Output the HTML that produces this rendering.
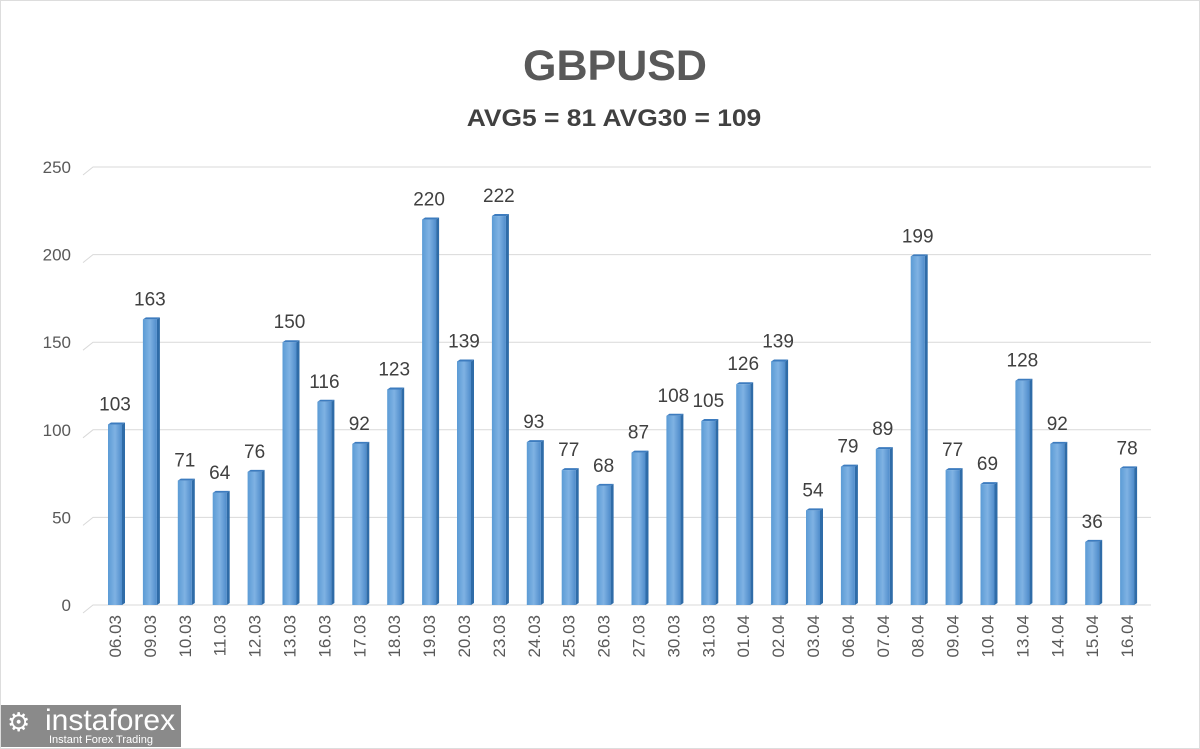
<!DOCTYPE html>
<html><head><meta charset="utf-8"><style>
body{margin:0;background:#fff;font-family:"Liberation Sans",sans-serif}
#wrap{position:relative;width:1200px;height:749px;overflow:hidden;background:#fff;box-sizing:border-box;border:1px solid #ddd}
.title{position:absolute;width:1200px;text-align:center;color:#595959;font-weight:bold}
#logo{position:absolute;left:0;top:704px;width:180px;height:42px;background:#8a8a8a;color:#fff}
</style></head><body>
<div id="wrap">
<div class="title" style="left:14px;top:41px;font-size:43px">GBPUSD</div>
<div class="title" style="left:13px;top:104px;font-size:24px;color:#404040;transform:scaleX(1.1)">AVG5 = 81 AVG30 = 109</div>
<svg id="chart" width="1200" height="749" style="position:absolute;left:0;top:0"></svg>
<div id="logo">
<div style="position:absolute;left:6px;top:4px;font-size:26px;line-height:26px">⚙</div>
<div style="position:absolute;left:44px;top:1px;font-size:30px;line-height:30px">instaforex</div>
<div style="position:absolute;left:48px;top:29px;font-size:11px">Instant Forex Trading</div>
</div>
</div>
<script>
const categories=["06.03","09.03","10.03","11.03","12.03","13.03","16.03","17.03","18.03","19.03","20.03","23.03","24.03","25.03","26.03","27.03","30.03","31.03","01.04","02.04","03.04","06.04","07.04","08.04","09.04","10.04","13.04","14.04","15.04","16.04"];
const values=[103,163,71,64,76,150,116,92,123,220,139,222,93,77,68,87,108,105,126,139,54,79,89,199,77,69,128,92,36,78];
const yTicks=[0,50,100,150,200,250];
const svg=document.getElementById('chart');const NS='http://www.w3.org/2000/svg';
const y0=604,yTop=166,yMax=250;
const y=v=>y0-(v/yMax)*(y0-yTop);
const x=i=>114+i*34.9;
function el(t,a,p){const e=document.createElementNS(NS,t);for(const k in a)e.setAttribute(k,a[k]);(p||svg).appendChild(e);return e;}
const defs=el('defs',{});
const g=el('linearGradient',{id:'bf',x1:0,x2:1,y1:0,y2:0},defs);
el('stop',{offset:0,'stop-color':'#5b9bd5'},g);el('stop',{offset:0.5,'stop-color':'#7fb2e3'},g);el('stop',{offset:1,'stop-color':'#4f8ccb'},g);
yTicks.forEach(t=>{
const l=el('polyline',{points:`82,${y(t)+8} 92,${y(t)} 1150,${y(t)}`,fill:'none',stroke:'#d9d9d9','stroke-width':1});

const tx=el('text',{x:70,y:y(t)+6,'text-anchor':'end','font-size':17,fill:'#595959'});tx.textContent=t;

});
values.forEach((v,i)=>{
const cx=x(i),top=y(v);
const side=el('polygon',{points:`${cx+7},${top} ${cx+10},${top-2} ${cx+10},${y0-2} ${cx+7},${y0}`,fill:'#2f6ca8'});

const topf=el('polygon',{points:`${cx-7},${top} ${cx-4},${top-2} ${cx+10},${top-2} ${cx+7},${top}`,fill:'#3d7cbf'});

const r=el('rect',{x:cx-7,y:top,width:14,height:y0-top,fill:'url(#bf)'});

const lb=el('text',{x:cx,y:top-14,'text-anchor':'middle','font-size':19,fill:'#404040'});lb.textContent=v;

const cl=el('text',{x:0,y:0,'text-anchor':'end','font-size':17,fill:'#595959',transform:`translate(${cx+6},614) rotate(-90)`});cl.textContent=categories[i];

});
</script>
</body></html>
